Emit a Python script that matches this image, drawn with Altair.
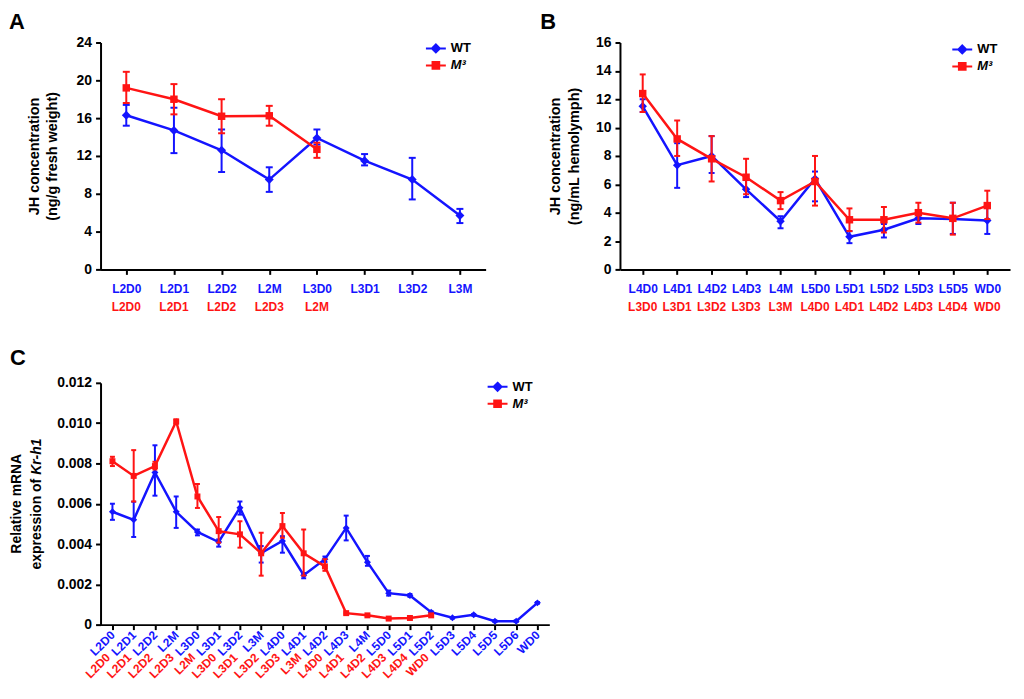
import altair as alt
import pandas as pd

FONT = "Liberation Sans"
BLUE = "#1414ff"
RED = "#ff1414"
SERIES = ["WT", "M³"]
LETTERS = ["A", "B", "C"]

# ---------------- Panel A ----------------
A_WT_STAGE = ["L2D0", "L2D1", "L2D2", "L2M", "L3D0", "L3D1", "L3D2", "L3M"]
A_WT_MEAN = [16.3, 14.7, 12.6, 9.5, 13.9, 11.5, 9.5, 5.7]
A_WT_LO = [15.2, 12.3, 10.3, 8.2, 13.2, 11.0, 7.4, 4.9]
A_WT_HI = [17.4, 17.1, 14.8, 10.8, 14.8, 12.2, 11.8, 6.4]
A_M3_STAGE = ["L2D0", "L2D1", "L2D2", "L2D3", "L2M"]
A_M3_MEAN = [19.2, 18.0, 16.2, 16.25, 12.7]
A_M3_LO = [17.6, 16.4, 14.4, 15.2, 11.8]
A_M3_HI = [20.9, 19.6, 18.0, 17.3, 13.4]
A_YTICKS = [0, 4, 8, 12, 16, 20, 24]
A_YTITLE = ["JH concentration", "(ng/g fresh weight)"]

# ---------------- Panel B ----------------
B_WT_STAGE = ["L4D0", "L4D1", "L4D2", "L4D3", "L4M", "L5D0", "L5D1", "L5D2", "L5D3", "L5D5", "WD0"]
B_WT_MEAN = [11.5, 7.35, 8.0, 5.65, 3.4, 6.4, 2.3, 2.8, 3.6, 3.55, 3.45]
B_WT_LO = [11.1, 5.75, 6.8, 5.1, 2.9, 4.8, 1.85, 2.25, 3.2, 2.5, 2.5]
B_WT_HI = [12.0, 8.9, 9.4, 6.3, 3.75, 6.9, 2.7, 3.2, 3.9, 4.7, 4.4]
B_M3_STAGE = ["L3D0", "L3D1", "L3D2", "L3D3", "L3M", "L4D0", "L4D1", "L4D2", "L4D3", "L4D4", "WD0"]
B_M3_MEAN = [12.4, 9.2, 7.8, 6.5, 4.85, 6.2, 3.5, 3.5, 4.0, 3.6, 4.5]
B_M3_LO = [11.1, 8.0, 6.2, 5.3, 4.25, 4.5, 2.7, 2.6, 3.3, 2.45, 3.55]
B_M3_HI = [13.75, 10.5, 9.4, 7.8, 5.45, 8.0, 4.3, 4.4, 4.7, 4.7, 5.55]
B_YTICKS = [0, 2, 4, 6, 8, 10, 12, 14, 16]
B_YTITLE = ["JH concentration", "(ng/mL hemolymph)"]

# ---------------- Panel C ----------------
C_WT_STAGE = ["L2D0", "L2D1", "L2D2", "L2M", "L3D0", "L3D1", "L3D2", "L3M", "L4D0", "L4D1", "L4D2",
              "L4D3", "L4M", "L5D0", "L5D1", "L5D2", "L5D3", "L5D4", "L5D5", "L5D6", "WD0"]
C_WT_MEAN = [0.0056, 0.0052, 0.00755, 0.0056, 0.0046, 0.0041, 0.0058, 0.00355, 0.00415, 0.00245, 0.00325,
             0.0048, 0.0031, 0.00156, 0.00145, 0.00062, 0.00034, 0.00049, 0.00017, 0.00017, 0.00108]
C_WT_LO = [0.0052, 0.00435, 0.0064, 0.0048, 0.00443, 0.00387, 0.00546, 0.00308, 0.00357, 0.0023, 0.00311,
           0.00418, 0.00292, 0.00144, 0.00138, 0.00058, 0.0003, 0.00045, 0.00013, 0.00013, 0.00104]
C_WT_HI = [0.006, 0.0061, 0.0089, 0.00636, 0.00472, 0.00423, 0.00611, 0.0039, 0.00439, 0.00256, 0.00338,
           0.00541, 0.00341, 0.00169, 0.00152, 0.00066, 0.00038, 0.00053, 0.00021, 0.00021, 0.00112]
C_M3_STAGE = ["L2D0", "L2D1", "L2D2", "L2D3", "L2M", "L3D0", "L3D1", "L3D2", "L3D3", "L3M", "L4D0",
              "L4D1", "L4D2", "L4D3", "L4D4", "WD0"]
C_M3_MEAN = [0.00811, 0.00738, 0.00787, 0.01008, 0.00636, 0.00464, 0.00448, 0.00354, 0.00489, 0.00354,
             0.00289, 0.00057, 0.00046, 0.0003, 0.00033, 0.00046]
C_M3_LO = [0.00787, 0.00611, 0.0077, 0.00997, 0.00579, 0.00407, 0.00382, 0.00243, 0.00431, 0.00243,
           0.00267, 0.00053, 0.00042, 0.00026, 0.00029, 0.00042]
C_M3_HI = [0.00833, 0.00866, 0.00808, 0.01018, 0.00698, 0.00534, 0.00513, 0.00456, 0.00554, 0.00472,
           0.00325, 0.00061, 0.0005, 0.00034, 0.00037, 0.0005]
C_YTICKS = [0, 0.002, 0.004, 0.006, 0.008, 0.010, 0.012]
C_YTITLE = ["Relative mRNA", "expression of", "Kr-h1"]

DIAMOND_KEY = "M-1.25,0H1.25M0,-0.5L0.5,0L0,0.5L-0.5,0Z"
SQUARE_KEY = "M-1.25,0H1.25M-0.42,-0.42H0.42V0.42H-0.42Z"


def frame(wt_stage, stage, mean, lo, hi, name):
    n = len(mean)
    return pd.DataFrame({"i": list(range(n)), "pos": wt_stage[:n], "lab": stage,
                         "y": mean, "lo": lo, "hi": hi, "series": name})


def panel(letter, wt, m3, W, H, pad, ydom, yax, xax, red_mark, red_y, msize, cap, sw, leg_xy, letter_xy):
    xs = alt.Scale(type="point", domain=list(wt["pos"]), padding=pad)
    ys = alt.Scale(domain=ydom, nice=False, zero=True)
    X = alt.X("pos:N", scale=xs, axis=xax)

    def Y(f):
        return alt.Y(f"{f}:Q", scale=ys, axis=yax)

    layers = []
    for df, col, shp, sz in [(wt, BLUE, "diamond", msize[0]), (m3, RED, "square", msize[1])]:
        b = alt.Chart(df)
        layers.append(b.mark_rule(color=col, strokeWidth=2).encode(x=X, y=Y("lo"), y2="hi:Q"))
        layers.append(b.mark_tick(color=col, thickness=2, size=cap, opacity=1).encode(x=X, y=Y("lo")))
        layers.append(b.mark_tick(color=col, thickness=2, size=cap, opacity=1).encode(x=X, y=Y("hi")))
        layers.append(b.mark_line(color=col, strokeWidth=sw).encode(x=X, y=Y("y"), order="i:Q"))
        layers.append(b.mark_point(color=col, filled=True, opacity=1, shape=shp, size=sz).encode(x=X, y=Y("y")))

    # red (M3) stage labels under the axis
    layers.append(alt.Chart(m3).mark_text(color=RED, font=FONT, fontSize=12, fontWeight="bold", **red_mark)
                  .encode(x=X, y=alt.value(red_y), text="lab:N"))

    # legend
    leg = alt.Legend(title=None, orient="none", legendX=leg_xy[0], legendY=leg_xy[1],
                     symbolSize=256, symbolStrokeWidth=2, labelFont=FONT, labelFontSize=13,
                     labelFontWeight="bold", labelColor="black",
                     labelFontStyle={"expr": "datum.value == 'WT' ? 'normal' : 'italic'"},
                     labelOffset=6, rowPadding=0, padding=0)
    cs = alt.Scale(domain=SERIES, range=[BLUE, RED])
    shs = alt.Scale(domain=SERIES, range=[DIAMOND_KEY, SQUARE_KEY])
    both = pd.concat([wt, m3], ignore_index=True)
    layers.append(alt.Chart(both).transform_filter("false").mark_point(filled=True, opacity=1)
                  .encode(x=X, y=Y("y"),
                          color=alt.Color("series:N", scale=cs, legend=leg),
                          stroke=alt.Stroke("series:N", scale=cs, legend=leg),
                          shape=alt.Shape("series:N", scale=shs, legend=leg)))

    # panel letter
    layers.append(alt.Chart(pd.DataFrame({"t": [letter]}))
                  .mark_text(font=FONT, fontSize=22, fontWeight="bold", align="left", baseline="top", color="black")
                  .encode(text="t:N", x=alt.value(letter_xy[0]), y=alt.value(letter_xy[1])))
    return layers


# ---------- A ----------
AW, AH = 387, 228
a_wt = frame(A_WT_STAGE, A_WT_STAGE, A_WT_MEAN, A_WT_LO, A_WT_HI, "WT")
a_m3 = frame(A_WT_STAGE, A_M3_STAGE, A_M3_MEAN, A_M3_LO, A_M3_HI, "M³")
xaxA = alt.Axis(title=None, labelAngle=0, labelColor=BLUE, labelFontSize=12, labelPadding=9)
yaxA = alt.Axis(values=A_YTICKS, title=A_YTITLE, titleFontSize=14.5, titleLineHeight=18, titlePadding=17,
                labelFontSize=14, labelPadding=4)
chartA = alt.layer(*panel("A", a_wt, a_m3, AW, AH, 0.54, [0, 24], yaxA, xaxA,
                          dict(align="center", baseline="middle"), AH + 38, (81, 56), 7, 2.5,
                          (328, -3), (-92, -31))).properties(width=AW, height=AH)

# ---------- B ----------
BW, BH = 392, 228
b_wt = frame(B_WT_STAGE, B_WT_STAGE, B_WT_MEAN, B_WT_LO, B_WT_HI, "WT")
b_m3 = frame(B_WT_STAGE, B_M3_STAGE, B_M3_MEAN, B_M3_LO, B_M3_HI, "M³")
xaxB = alt.Axis(title=None, labelAngle=0, labelColor=BLUE, labelFontSize=12, labelPadding=9)
yaxB = alt.Axis(values=B_YTICKS, title=B_YTITLE, titleFontSize=14.5, titleLineHeight=19, titlePadding=14,
                labelFontSize=14, labelPadding=4)
chartB = alt.layer(*panel("B", b_wt, b_m3, BW, BH, 0.66, [0, 16], yaxB, xaxB,
                          dict(align="center", baseline="middle"), BH + 38, (72, 56), 6, 2.5,
                          (335, -2), (-80, -31))).properties(width=BW, height=BH)

# ---------- C ----------
CW, CH = 451, 243
c_wt = frame(C_WT_STAGE, C_WT_STAGE, C_WT_MEAN, C_WT_LO, C_WT_HI, "WT")
c_m3 = frame(C_WT_STAGE, C_M3_STAGE, C_M3_MEAN, C_M3_LO, C_M3_HI, "M³")
xaxC = alt.Axis(title=None, labelAngle=315, labelAlign="right", labelBaseline="middle", labelColor=BLUE,
                labelFontSize=12, labelPadding=3)
yaxC = alt.Axis(values=C_YTICKS, title=None, labelFontSize=14, labelPadding=4,
                labelExpr="datum.value == 0 ? '0' : format(datum.value, '.3f')")
c_layers = panel("C", c_wt, c_m3, CW, CH, 0.56, [0, 0.012], yaxC, xaxC,
                 dict(align="right", baseline="middle", angle=315, dx=-3, dy=-3), CH + 31, (49, 36), 5, 2.5,
                 (390, -5), (-91, -35))
t_base = alt.Chart(pd.DataFrame({"t": C_YTITLE}))
tkw = dict(font=FONT, fontSize=14, fontWeight="bold", angle=270, color="black", baseline="middle")
c_layers.append(t_base.transform_filter(alt.datum.t == C_YTITLE[0]).mark_text(align="center", **tkw)
                .encode(text="t:N", x=alt.value(-84), y=alt.value(CH / 2)))
c_layers.append(t_base.transform_filter(alt.datum.t == C_YTITLE[1]).mark_text(align="right", **tkw)
                .encode(text="t:N", x=alt.value(-64), y=alt.value(CH / 2 - 25)))
c_layers.append(t_base.transform_filter(alt.datum.t == C_YTITLE[2])
                .mark_text(align="left", fontStyle="italic", **tkw)
                .encode(text="t:N", x=alt.value(-64), y=alt.value(CH / 2 - 29)))
chartC = alt.layer(*c_layers).properties(width=CW, height=CH)

top = alt.hconcat(chartA, chartB, spacing=53).resolve_scale(
    color="independent", stroke="independent", shape="independent")
chart = (alt.vconcat(top, chartC, spacing=32)
         .resolve_scale(color="independent", stroke="independent", shape="independent")
         .properties(padding={"left": 0, "top": 0, "right": 5, "bottom": 5})
         .configure_axis(domainColor="black", domainWidth=2, tickColor="black", tickWidth=2, tickSize=5,
                         labelFont=FONT, labelFontWeight="bold", labelColor="black",
                         titleFont=FONT, titleFontWeight="bold", titleColor="black", grid=False)
         .configure_view(stroke="transparent"))

chart.save("out.html", embed_options={"renderer": "svg", "actions": False})
